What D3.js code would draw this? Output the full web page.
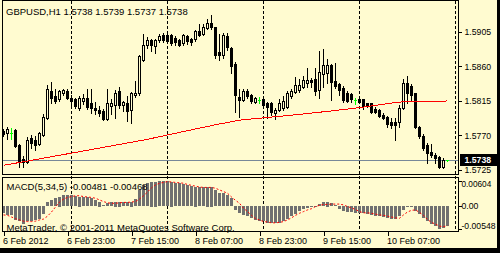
<!DOCTYPE html>
<html>
<head>
<meta charset="utf-8">
<script src="https://cdn.jsdelivr.net/npm/d3@7"></script>
<style>
html, body { margin: 0; padding: 0; background: #fffbd0; }
svg { display: block; }
</style>
</head>
<body>
<svg id="chart" width="500" height="253"></svg>
<script>
var symbolTitle = "GBPUSD,H1";
var copyright = "MetaTrader, \u00a9 2001-2011 MetaQuotes Software Corp.";
var macdTitle = "MACD(5,34,5)";

// hourly bars, 6 Feb 07:00 .. 10 Feb 22:00
var opens = [1.5776,1.5773,1.5773,1.5777,1.5758,1.5739,1.5735,1.5767,1.5764,1.5759,
  1.5771,1.5793,1.5828,1.5822,1.5818,1.5825,1.5828,1.5819,1.5818,1.5806,
  1.5815,1.5819,1.5812,1.5806,1.5803,1.5802,1.5791,1.5808,1.5810,1.5828,
  1.5810,1.5812,1.5803,1.5823,1.5825,1.5869,1.5888,1.5895,1.5887,1.5895,
  1.5901,1.5901,1.5901,1.5897,1.5895,1.5891,1.5900,1.5896,1.5896,1.5906,
  1.5902,1.5910,1.5917,1.5912,1.5879,1.5875,1.5900,1.5884,1.5863,1.5820,
  1.5816,1.5828,1.5823,1.5814,1.5816,1.5818,1.5812,1.5812,1.5799,1.5803,
  1.5806,1.5807,1.5822,1.5827,1.5829,1.5833,1.5839,1.5842,1.5844,1.5829,
  1.5850,1.5852,1.5862,1.5841,1.5837,1.5832,1.5825,1.5824,1.5816,1.5818,
  1.5818,1.5812,1.5812,1.5805,1.5803,1.5797,1.5794,1.5788,1.5788,1.5788,
  1.5806,1.5839,1.5835,1.5825,1.5781,1.5769,1.5758,1.5748,1.5745,1.5742,
  1.5729,1.5738];
var highs = [1.5780,1.5782,1.5781,1.5780,1.5760,1.5745,1.5769,1.5772,1.5771,1.5776,
  1.5799,1.5837,1.5841,1.5832,1.5831,1.5832,1.5832,1.5824,1.5820,1.5823,
  1.5825,1.5832,1.5832,1.5815,1.5810,1.5806,1.5832,1.5819,1.5831,1.5835,
  1.5816,1.5823,1.5828,1.5842,1.5876,1.5904,1.5900,1.5897,1.5897,1.5904,
  1.5905,1.5904,1.5904,1.5901,1.5897,1.5904,1.5902,1.5899,1.5909,1.5917,
  1.5917,1.5923,1.5929,1.5912,1.5904,1.5905,1.5905,1.5887,1.5867,1.5832,
  1.5832,1.5832,1.5825,1.5822,1.5822,1.5820,1.5815,1.5815,1.5807,1.5819,
  1.5823,1.5829,1.5832,1.5848,1.5845,1.5849,1.5859,1.5846,1.5859,1.5882,
  1.5884,1.5871,1.5865,1.5866,1.5840,1.5836,1.5829,1.5827,1.5820,1.5820,
  1.5819,1.5814,1.5814,1.5808,1.5806,1.5801,1.5797,1.5794,1.5794,1.5811,
  1.5845,1.5849,1.5839,1.5825,1.5784,1.5773,1.5761,1.5760,1.5748,1.5745,
  1.5742,1.5739];
var lows = [1.5769,1.5765,1.5765,1.5755,1.5729,1.5729,1.5734,1.5754,1.5751,1.5758,
  1.5769,1.5791,1.5812,1.5812,1.5815,1.5823,1.5818,1.5810,1.5806,1.5803,
  1.5811,1.5805,1.5799,1.5798,1.5795,1.5790,1.5790,1.5798,1.5793,1.5806,
  1.5802,1.5789,1.5786,1.5820,1.5823,1.5867,1.5884,1.5880,1.5878,1.5892,
  1.5892,1.5891,1.5888,1.5888,1.5887,1.5888,1.5889,1.5888,1.5893,1.5900,
  1.5901,1.5909,1.5909,1.5871,1.5869,1.5871,1.5882,1.5852,1.5801,1.5794,
  1.5815,1.5819,1.5812,1.5812,1.5812,1.5808,1.5793,1.5797,1.5791,1.5802,
  1.5803,1.5806,1.5819,1.5825,1.5827,1.5832,1.5833,1.5833,1.5823,1.5819,
  1.5833,1.5839,1.5816,1.5832,1.5823,1.5814,1.5814,1.5814,1.5811,1.5812,
  1.5805,1.5807,1.5799,1.5799,1.5794,1.5791,1.5781,1.5780,1.5764,1.5781,
  1.5805,1.5812,1.5816,1.5780,1.5767,1.5751,1.5734,1.5742,1.5734,1.5728,
  1.5728,1.5737];
var closes = [1.5772,1.5778,1.5773,1.5756,1.5737,1.5735,1.5764,1.5760,1.5758,1.5773,
  1.5794,1.5831,1.5819,1.5815,1.5828,1.5829,1.5819,1.5815,1.5808,1.5819,
  1.5819,1.5807,1.5806,1.5803,1.5799,1.5791,1.5812,1.5812,1.5825,1.5810,
  1.5814,1.5802,1.5825,1.5825,1.5874,1.5888,1.5895,1.5888,1.5895,1.5900,
  1.5895,1.5893,1.5891,1.5892,1.5888,1.5901,1.5893,1.5892,1.5906,1.5901,
  1.5912,1.5917,1.5912,1.5875,1.5875,1.5901,1.5885,1.5861,1.5823,1.5816,
  1.5828,1.5822,1.5815,1.5819,1.5816,1.5810,1.5807,1.5801,1.5803,1.5812,
  1.5815,1.5825,1.5828,1.5836,1.5836,1.5842,1.5842,1.5840,1.5828,1.5853,
  1.5862,1.5862,1.5840,1.5835,1.5829,1.5816,1.5815,1.5817,1.5816,1.5814,
  1.5808,1.5810,1.5801,1.5800,1.5795,1.5793,1.5785,1.5784,1.5784,1.5806,
  1.5839,1.5825,1.5823,1.5781,1.5769,1.5754,1.5747,1.5745,1.5741,1.5729,
  1.5738,1.5738];

// moving average, read at a few bars
var maBars   = [0, 17, 36, 44, 53, 59, 65, 73, 82, 90, 98, 100, 111];
var maValues = [1.5731,1.5747,1.5765,1.5774,1.5784,1.5790,1.5793,1.5797,1.5802,1.5807,1.5813,1.5814,1.5815];

var macdMain = [-0.0017,-0.0021,-0.0021,-0.0033,-0.0037,-0.0043,-0.0037,-0.0035,-0.0033,-0.0031,
  -0.0018,0.0010,0.0015,0.0019,0.0023,0.0027,0.0027,0.0027,0.0025,0.0023,
  0.0021,0.0021,0.0019,0.0015,0.0011,0.0002,0.0007,0.0009,0.0011,0.0011,
  0.0009,0.0009,0.0011,0.0017,0.0039,0.0051,0.0056,0.0059,0.0059,0.00604,
  0.0060,0.0060,0.0059,0.0056,0.0055,0.0053,0.0051,0.0049,0.0047,0.0045,
  0.0045,0.0047,0.0047,0.0039,0.0032,0.0031,0.0027,0.0019,-0.0009,-0.0016,
  -0.0021,-0.0025,-0.0029,-0.0033,-0.0035,-0.0037,-0.0040,-0.0041,-0.0041,-0.0040,
  -0.0037,-0.0031,-0.0025,-0.0019,-0.0012,-0.0007,-0.0006,-0.0003,-0.0001,0.0005,
  0.0009,0.0011,0.0007,0.0003,-0.0007,-0.0011,-0.0014,-0.0014,-0.0016,-0.0017,
  -0.0017,-0.0019,-0.0021,-0.0024,-0.0024,-0.0027,-0.0029,-0.0031,-0.0031,-0.0024,
  -0.0009,-0.0002,-0.0001,-0.0013,-0.0020,-0.0028,-0.0036,-0.0043,-0.0049,-0.00548,
  -0.0054,-0.00481];
var macdSignal = [-0.0021,-0.0022,-0.0026,-0.0030,-0.0033,-0.0036,-0.0037,-0.0037,-0.0036,-0.0033,
  -0.0031,-0.0024,-0.0014,-0.0002,0.0010,0.0017,0.0021,0.0023,0.0025,0.0025,
  0.0023,0.0022,0.0021,0.0019,0.0015,0.0011,0.0008,0.0007,0.0007,0.0008,
  0.0009,0.0009,0.0010,0.0011,0.0017,0.0025,0.0034,0.0044,0.0051,0.0055,
  0.0057,0.0059,0.0058,0.0057,0.0056,0.0055,0.0052,0.0050,0.0048,0.0046,
  0.0045,0.0045,0.0045,0.0043,0.0039,0.0035,0.0031,0.0022,0.0014,0.0007,
  -0.0005,-0.0013,-0.0022,-0.0030,-0.0033,-0.0037,-0.0038,-0.0040,-0.0040,-0.0039,
  -0.0037,-0.0033,-0.0028,-0.0022,-0.0017,-0.0013,-0.0009,-0.0006,-0.0001,0.0002,
  0.0004,0.0004,0.0005,0.0005,0.0005,0.0003,-0.0001,-0.0004,-0.0008,-0.0013,
  -0.0016,-0.0016,-0.0017,-0.0019,-0.0021,-0.0022,-0.0024,-0.0026,-0.0028,-0.0029,
  -0.0021,-0.0014,-0.0010,-0.0009,-0.0015,-0.0022,-0.0032,-0.0039,-0.0043,-0.0048,
  -0.0049,-0.00468];

var priceTicks = [1.5725, 1.5770, 1.5815, 1.5860, 1.5905];
var macdTicks = [0.00604, 0, -0.00548];
var macdTickLabels = ["0.00604", "0.00", "-0.00548"];
var timeTicks = [0, 16, 32, 48, 64, 80, 96];
var timeLabels = ["6 Feb 2012", "6 Feb 23:00", "7 Feb 15:00", "8 Feb 07:00", "8 Feb 23:00", "9 Feb 15:00", "10 Feb 07:00"];
var dayStartBars = [17, 41, 65, 89, 113];
var bidPrice = 1.5738;

var bg = "#fffbd0";
var font = "'Liberation Sans', Arial, sans-serif";
var fsize = 9.5;     // titles
var axisSize = 8.7;  // price scale
var macdSize = 8.7;  // indicator scale
var timeSize = 9;

var svg = d3.select("#chart");
svg.append("rect").attr("width", 500).attr("height", 253).attr("fill", bg);

// panes
var left = 2.5, right = 458.5;
var mainTop = 0.5, mainBottom = 174.5;
var macdTop = 177.5, macdBottom = 231.5;

var x = d3.scaleLinear().domain([0, 111]).range([3.5, 447.5]);
var y = d3.scaleLinear().domain([1.5738, 1.5905]).range([160, 32]);
var my = d3.scaleLinear().domain([-0.00548, 0.00604]).range([229, 181]);
var py = function(v) { return Math.round(y(v)) + 0.5; };

var defs = svg.append("defs");
defs.append("clipPath").attr("id", "clipMain").append("rect")
    .attr("x", left).attr("y", mainTop).attr("width", right - left).attr("height", mainBottom - mainTop);
defs.append("clipPath").attr("id", "clipMacd").append("rect")
    .attr("x", left).attr("y", macdTop).attr("width", right - left).attr("height", macdBottom - macdTop);

// day separators
svg.append("g").selectAll("line").data(dayStartBars).join("line")
    .attr("x1", d => x(d)).attr("x2", d => x(d))
    .attr("y1", mainTop).attr("y2", macdBottom)
    .attr("stroke", "#000").attr("stroke-dasharray", "3,2")
    .attr("shape-rendering", "crispEdges");

var main = svg.append("g").attr("clip-path", "url(#clipMain)").attr("shape-rendering", "crispEdges");

// bid line
main.append("line")
    .attr("x1", left).attr("x2", right)
    .attr("y1", py(bidPrice)).attr("y2", py(bidPrice))
    .attr("stroke", "#778899");

var bars = d3.range(opens.length).map(function(i) {
    return {i: i, o: opens[i], h: highs[i], l: lows[i], c: closes[i]};
});

main.selectAll("line.wick").data(bars).join("line")
    .attr("class", "wick")
    .attr("x1", d => x(d.i)).attr("x2", d => x(d.i))
    .attr("y1", d => py(d.h)).attr("y2", d => py(d.l) + 0.5)
    .attr("stroke", d => d.o === d.c ? "#00ff00" : "#000");

main.selectAll("rect.body").data(bars.filter(d => d.o !== d.c)).join("rect")
    .attr("class", "body")
    .attr("x", d => x(d.i) - 1).attr("width", 2)
    .attr("y", d => py(Math.max(d.o, d.c)))
    .attr("height", d => Math.max(1, py(Math.min(d.o, d.c)) - py(Math.max(d.o, d.c))))
    .attr("fill", d => d.c > d.o ? bg : "#000")
    .attr("stroke", "#000");

main.selectAll("line.doji").data(bars.filter(d => d.o === d.c)).join("line")
    .attr("class", "doji")
    .attr("x1", d => x(d.i) - 1.5).attr("x2", d => x(d.i) + 1.5)
    .attr("y1", d => py(d.o)).attr("y2", d => py(d.o))
    .attr("stroke", "#00ff00");

// moving average
main.append("path")
    .datum(d3.zip(maBars, maValues))
    .attr("d", d3.line().x(d => x(d[0])).y(d => y(d[1])))
    .attr("fill", "none").attr("stroke", "#ff0000");

// MACD pane
var macd = svg.append("g").attr("clip-path", "url(#clipMacd)");
macd.append("g").attr("shape-rendering", "crispEdges")
    .selectAll("rect").data(macdMain).join("rect")
    .attr("x", (d, i) => x(i) - 1.5).attr("width", 3)
    .attr("y", d => Math.round(Math.min(my(d), my(0))))
    .attr("height", d => Math.max(1, Math.round(Math.abs(my(d) - my(0)))))
    .attr("fill", "#707070");

macd.append("path")
    .datum(macdSignal)
    .attr("d", d3.line().x((d, i) => x(i)).y(d => my(d)))
    .attr("fill", "none").attr("stroke", "#ff0000")
    .attr("stroke-dasharray", "2,2");

// frames
svg.append("g").attr("fill", "none").attr("stroke", "#000").attr("shape-rendering", "crispEdges")
  .call(function(g) {
    g.append("rect").attr("x", left).attr("y", mainTop).attr("width", right - left).attr("height", mainBottom - mainTop);
    g.append("rect").attr("x", left).attr("y", macdTop).attr("width", right - left).attr("height", macdBottom - macdTop);
  });

// price axis
var gp = svg.append("g").attr("transform", "translate(" + right + ",0)")
    .call(d3.axisRight(y).tickValues(priceTicks).tickSize(3).tickPadding(3)
        .tickFormat(d => d.toFixed(4)));
gp.select(".domain").remove();

// macd axis
var gm = svg.append("g").attr("transform", "translate(" + right + ",0)")
    .call(d3.axisRight(my).tickValues(macdTicks).tickSize(3).tickPadding(0)
        .tickFormat((d, i) => macdTickLabels[i]));
gm.select(".domain").remove();
gm.selectAll(".tick text")
    .attr("y", d => Math.max(184, Math.min(226, my(d))) - my(d))
    .each(function(d, i) {
        // keep long labels inside the scale column
        var label = macdTickLabels[i];
        if (label.length > 5) {
            d3.select(this).attr("textLength", label.length * 4.25).attr("lengthAdjust", "spacingAndGlyphs");
        }
    });

// time axis
var gt = svg.append("g").attr("transform", "translate(0," + macdBottom + ")")
    .call(d3.axisBottom(x).tickValues(timeTicks).tickSize(4).tickPadding(2)
        .tickFormat((d, i) => timeLabels[i]));
gt.select(".domain").remove();
gt.selectAll(".tick text").attr("text-anchor", "start").attr("x", -1);

svg.selectAll(".tick line").attr("stroke", "#000").attr("shape-rendering", "crispEdges");
gp.attr("font-family", font).attr("font-size", axisSize);
gm.attr("font-family", font).attr("font-size", macdSize);
gt.attr("font-family", font).attr("font-size", timeSize);
svg.selectAll(".tick text").attr("fill", "#000");

// bid price box
svg.append("rect").attr("x", 460).attr("y", 154).attr("width", 37).attr("height", 12).attr("fill", "#000");
svg.append("text").attr("x", 464.5).attr("y", 160).attr("dy", "0.35em")
    .attr("font-family", font).attr("font-size", axisSize).attr("font-weight", "bold").attr("fill", "#fff")
    .text(bidPrice.toFixed(4));

// labels
var last = bars[bars.length - 1];
var texts = svg.append("g").attr("font-family", font).attr("font-size", fsize).attr("fill", "#000")
    .attr("xml:space", "preserve");
texts.append("text").attr("x", 6).attr("y", 15)
    .text(symbolTitle + "  " + [last.o, last.h, last.l, last.c].map(v => v.toFixed(4)).join(" "));
texts.append("text").attr("x", 6.5).attr("y", 189.5)
    .text(macdTitle + " " + macdMain[macdMain.length - 1].toFixed(5) + " " + macdSignal[macdSignal.length - 1].toFixed(5));
texts.append("text").attr("x", 6.5).attr("y", 230.5).text(copyright);

// window edge
svg.append("rect").attr("x", 497).attr("y", 0).attr("width", 3).attr("height", 253).attr("fill", "#000");
svg.append("rect").attr("x", 0).attr("y", 248).attr("width", 500).attr("height", 5).attr("fill", "#000");
</script>
</body>
</html>
